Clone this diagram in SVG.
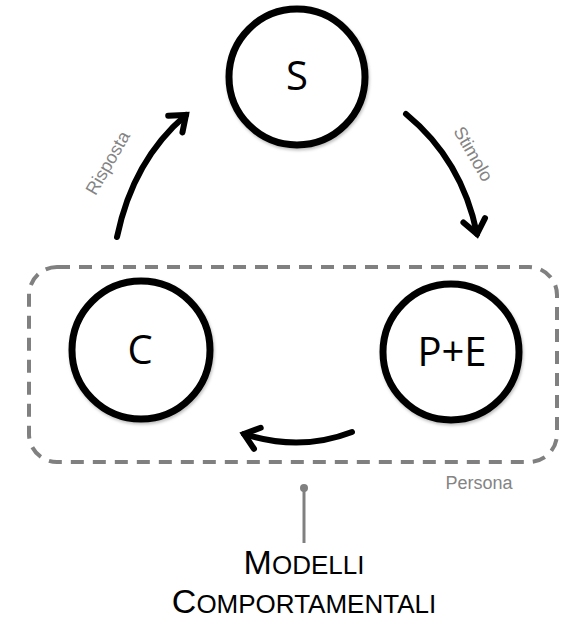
<svg xmlns="http://www.w3.org/2000/svg" width="584" height="627" viewBox="0 0 584 627">
<style>
.node{fill:#fff;stroke:#000;stroke-width:7}
.nlabel{font-family:"Open Sans","Liberation Sans",sans-serif;font-size:40px;fill:#000;text-anchor:middle}
.arrow{fill:none;stroke:#000;stroke-width:6;stroke-linecap:round}
.lbl{font-family:"Liberation Sans",Arial,sans-serif;font-size:18px;fill:#848484;text-anchor:middle}
.title{font-family:"Liberation Sans",Arial,sans-serif;fill:#000}
</style>
<defs>
<marker id="head" viewBox="0 0 30 30" refX="22" refY="15" markerWidth="30" markerHeight="30" markerUnits="userSpaceOnUse" orient="auto">
<path d="M8,4 L22,15 L8,26" fill="none" stroke="#000" stroke-width="6" stroke-linecap="round" stroke-linejoin="miter"/>
</marker>
<filter id="sh" x="-20%" y="-20%" width="140%" height="140%">
<feDropShadow dx="1" dy="2" stdDeviation="1.5" flood-color="#000" flood-opacity="0.25"/>
</filter>
</defs>
<rect width="584" height="627" fill="#fff"/>
<g id="persona">
<rect x="29" y="267" width="528" height="195" rx="28" fill="none" stroke="#808080" stroke-width="4" stroke-dasharray="13 9"/>
<text class="lbl" x="479" y="489">Persona</text>
</g>
<g id="node-S">
<circle class="node" cx="297" cy="77" r="68" filter="url(#sh)"/>
<text class="nlabel" x="297" y="90">S</text>
</g>
<g id="node-C">
<circle class="node" cx="141" cy="350" r="69" filter="url(#sh)"/>
<text class="nlabel" x="140" y="364">C</text>
</g>
<g id="node-PE">
<circle class="node" cx="451" cy="352" r="68" filter="url(#sh)"/>
<text class="nlabel" x="452" y="366">P+E</text>
</g>
<g id="connectors">
<path class="arrow" d="M117,237 Q133,160 186,115" marker-end="url(#head)"/>
<path class="arrow" d="M406,114 Q462,160 477,234" marker-end="url(#head)"/>
<path class="arrow" d="M352,432 Q300,452 244,434" marker-end="url(#head)"/>
<line x1="304" y1="488" x2="304" y2="543" stroke="#808080" stroke-width="3"/>
<circle cx="304" cy="488" r="4" fill="#808080"/>
<text class="lbl" transform="translate(113,166) rotate(-60)">Risposta</text>
<text class="lbl" transform="translate(468,157) rotate(60)">Stimolo</text>
</g>
<g id="title">
<text class="title" x="304" y="574" text-anchor="middle"><tspan font-size="34">M</tspan><tspan font-size="26">ODELLI</tspan></text>
<text class="title" x="304" y="613" text-anchor="middle"><tspan font-size="34">C</tspan><tspan font-size="26">OMPORTAMENTALI</tspan></text>
</g>
</svg>
